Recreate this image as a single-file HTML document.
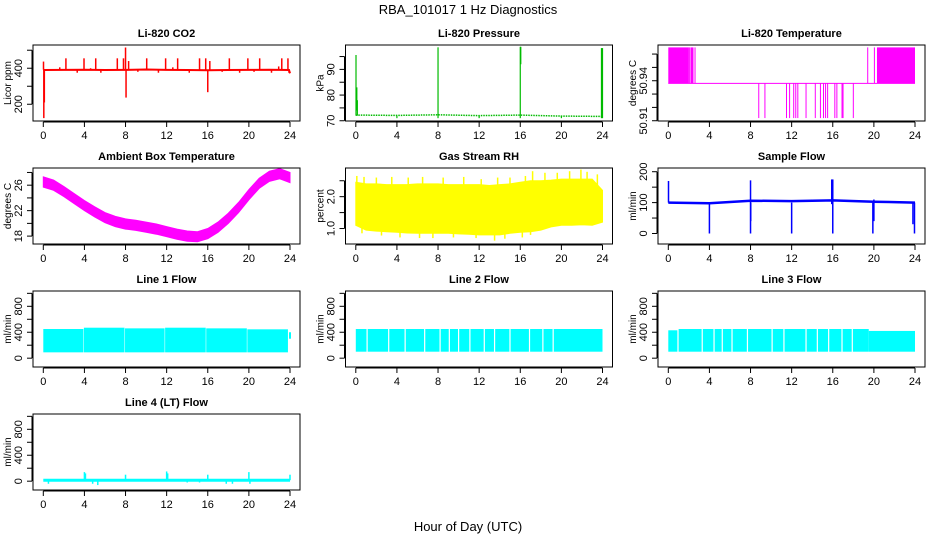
<!DOCTYPE html>
<html><head><meta charset="utf-8"><style>
html,body{margin:0;padding:0;background:#fff}
svg{display:block;font-family:"Liberation Sans",sans-serif}
</style></head><body>
<svg id="chart" width="936" height="540" viewBox="0 0 936 540">
<text x="468" y="14" text-anchor="middle" font-size="13">RBA_101017  1 Hz Diagnostics</text>
<text x="468" y="531" text-anchor="middle" font-size="13">Hour of Day (UTC)</text>
</svg>
<script>
// ---------- data ----------
const hourTicks = [0,4,8,12,16,20,24];
// CO2
const co2BaseT = [0,0.1,2,4,6,8,10,12,14,16,18,20,22,23.9,24];
const co2BaseV = [392,390,391,392,390,391,393,391,390,389,390,391,392,390,372];
const co2SpikeT = [0.02,0.05,0.1,1.6,2.2,3.3,3.96,4.6,5.1,5.6,6.5,7.2,7.8,8.0,8.05,8.3,9.2,10.06,11.2,11.9,12.6,13.07,14.2,15.2,15.8,16.0,16.2,17.4,18.1,19.1,19.9,20.5,21.05,22.2,22.9,23.2,23.8,23.9];
const co2SpikeV = [437,123,210,405,455,375,455,400,455,375,395,455,455,515,237,440,380,455,375,455,405,455,375,455,455,267,440,380,455,375,455,380,455,375,410,455,455,375];
// Pressure
const presBaseT = [0,0.1,4,8,12,16,20,24];
const presBaseV = [72.2,72.2,72.1,72.3,72.0,72.2,71.8,71.7];
const presSpikeT = [0.02,0.1,0.15,4.0,8.0,12.0,16.0,16.05,20.0,23.9,24.0];
const presSpikeLo = [72,74,72,71,71,71,71,92,71,71,71];
const presSpikeHi = [95.6,83,78,72,98.6,72,98.8,98.8,72,98.3,98.3];
// Li-820 temperature
const tBase = 50.938;
const tHighBlocks = [[0,2.0],[2.15,2.45],[20.3,24]];
const tHighLines = [2.05,2.6,19.4,20.05];
const tHigh = 50.965;
const tLowLines = [8.8,9.4,11.5,11.8,12.2,12.4,12.6,13.4,14.3,14.8,15.1,15.3,15.5,16.2,16.4,16.9,17.0,18.0];
const tLow = 50.912;
// Ambient box temperature (hourly)
const ambT = [0,1,2,3,4,5,6,7,8,9,10,11,12,13,14,15,16,17,18,19,20,21,22,23,24];
const ambV = [26.5,26.0,25.0,23.9,22.8,21.8,20.9,20.3,19.9,19.7,19.4,19.1,18.7,18.3,18.0,17.9,18.4,19.4,20.8,22.5,24.5,26.3,27.4,27.8,27.2];
// Gas stream RH (hourly envelope)
const rhT = [0,1,2,3,4,5,6,7,8,9,10,11,12,13,14,15,16,17,18,19,20,21,22,23,24];
const rhHi = [2.45,2.4,2.4,2.38,2.38,2.38,2.4,2.4,2.4,2.38,2.38,2.38,2.38,2.35,2.38,2.4,2.45,2.5,2.5,2.52,2.55,2.55,2.55,2.55,2.2];
const rhLo = [1.1,0.95,0.92,0.9,0.88,0.86,0.85,0.85,0.85,0.85,0.83,0.82,0.8,0.8,0.8,0.85,0.88,0.9,0.95,1.05,1.1,1.1,1.12,1.1,1.2];
const rhSpikeT = [0.1,0.8,2.0,3.5,5.1,6.5,8.5,10.5,12.2,13.8,15.0,16.5,17.2,18.4,19.6,20.8,21.9,22.5,23.5];
const rhSpikeV = [2.65,2.62,2.6,2.62,2.6,2.62,2.6,2.62,2.55,2.6,2.6,2.65,2.8,2.75,2.75,2.8,2.85,2.78,2.7];
const rhDipT = [0.6,2.5,4.3,6.2,7.5,9.5,11.7,13.5,14.5,16.2,17.0];
const rhDipV = [0.85,0.78,0.72,0.7,0.7,0.72,0.7,0.62,0.68,0.72,0.8];
// Sample flow
const sfBaseT = [0,0.05,4,8,12,16,20,24];
const sfBaseV = [100,100,98,106,105,107,103,100];
const sfSpikeT = [0.02,4.0,8.0,8.02,12.0,15.9,16.0,19.9,20.0,23.8,23.95];
const sfSpikeLo = [100,0,0,40,0,95,0,0,40,30,0];
const sfSpikeHi = [170,100,172,100,100,175,175,100,110,100,100];
// Line flows (band segments)
const l1SegT = [0,3.9,3.95,7.9,7.95,11.8,11.85,15.8,15.85,19.8,19.85,23.8];
const l1Hi = [450,0,470,0,460,0,470,0,460,0,445];
const l1Lo = [90,0,90,0,90,0,90,0,90,0,90];
const l1Gaps = [];
const l2SegT = [0,24];
const l2Hi = [450];
const l2Lo = [100];
const l2Gaps = [1.1,3.2,4.8,6.7,8.2,9.1,10.0,11.1,12.5,13.5,15.0,16.9,18.2,19.2];
const l3SegT = [0,1.0,19.5,24];
const l3Hi = [430,450,420];
const l3Lo = [100,100,100];
const l3Gaps = [0.94,3.3,4.45,5.25,6.2,7.7,10.1,11.25,13.4,14.5,15.6,16.9,17.9];
// Line 4
const l4BaseV = 15;
const l4SpikeT = [0.5,4.0,4.1,4.8,5.3,8.0,12.0,12.1,14.0,15.2,16.0,17.8,18.4,20.0,20.1,24.0];
const l4SpikeV = [-40,140,120,-40,-60,100,150,120,-20,-20,100,-40,-40,140,-40,100];

// ---------- drawing ----------
const svg = document.getElementById('chart');
const NS = 'http://www.w3.org/2000/svg';
function mk(tag, attrs, parent){
  const e = document.createElementNS(NS, tag);
  for (const k in attrs) e.setAttribute(k, attrs[k]);
  (parent||svg).appendChild(e);
  return e;
}
function panel(col,row,title,ylab,ymin,ymax,ticks,labels,name){
  const L = 33 + col*312.5, R = L + 267, T = 45 + row*123, B = T + 76;
  const g = mk('g',{});
  
  
  const x = t => L + 10.3 + t*(246.7/24);
  const y = v => B - (v - ymin)/(ymax - ymin)*(B - T);
  const data = mk('g',{},g);
  
  
  const box = mk('rect',{x:L,y:T,width:R-L,height:B-T,fill:'none',stroke:'#000','stroke-width':1},g);
  
  
  const tt = mk('text',{x:(L+R)/2,y:T-8,'text-anchor':'middle','font-size':11,'font-weight':'bold'},g);
  tt.textContent = title;
  
  
  const xa = mk('g',{},g);
  
  
  mk('line',{x1:x(0),x2:x(24),y1:B+1,y2:B+1,stroke:'#000'},xa);
  hourTicks.forEach(h=>{
    mk('line',{x1:x(h),x2:x(h),y1:B+1,y2:B+6,stroke:'#000'},xa);
    const t = mk('text',{x:x(h),y:B+18,'text-anchor':'middle','font-size':11},xa);
    t.textContent = h;
    
    
  });
  const ya = mk('g',{},g);
  
  
  mk('line',{x1:L-1,x2:L-1,y1:y(ticks[0]),y2:y(ticks[ticks.length-1]),stroke:'#000'},ya);
  ticks.forEach((v,i)=>{
    mk('line',{x1:L-6,x2:L-1,y1:y(v),y2:y(v),stroke:'#000'},ya);
    if (labels[i] !== '') {
      const t = mk('text',{x:0,y:0,'text-anchor':'middle','font-size':11,transform:`translate(${L-11},${y(v)}) rotate(-90)`},ya);
      t.textContent = labels[i];
      
      
    }
  });
  const yl = mk('text',{x:0,y:0,'text-anchor':'middle','font-size':10,transform:`translate(${L-22},${(T+B)/2}) rotate(-90)`},ya);
  yl.textContent = ylab;
  
  
  return {x,y,g:data};
}
function polyline(p, ts, vs, color, w){
  const pts = ts.map((t,i)=>p.x(t).toFixed(1)+','+p.y(vs[i]).toFixed(1)).join(' ');
  const e = mk('polyline',{points:pts,fill:'none',stroke:color,'stroke-width':w||1},p.g);
  
  
  return e;
}
function vline(p, t, v1, v2, color, w){
  const e = mk('line',{x1:p.x(t),x2:p.x(t),y1:p.y(v1),y2:p.y(v2),stroke:color,'stroke-width':w||1},p.g);
  
  
}
function band(p, ts, lo, hi, color, name){
  const pts = ts.map((t,i)=>p.x(t).toFixed(1)+','+p.y(hi[i]).toFixed(1))
    .concat(ts.slice().reverse().map((t,j)=>{const i=ts.length-1-j;return p.x(t).toFixed(1)+','+p.y(lo[i]).toFixed(1);}));
  const e = mk('polygon',{points:pts.join(' '),fill:color,stroke:color,'stroke-width':1},p.g);
  
  
}
function stepBand(p, segT, lo, hi, color, gaps){
  for (let i=0;i<segT.length-1;i++){
    if (hi[i] <= lo[i]) continue;
    const e = mk('rect',{x:p.x(segT[i]),y:p.y(hi[i]),width:p.x(segT[i+1])-p.x(segT[i]),height:p.y(lo[i])-p.y(hi[i]),fill:color},p.g);
    
    
  }
  gaps.forEach(t=>{
    const e = mk('line',{x1:p.x(t),x2:p.x(t),y1:p.y(hi[0]+30),y2:p.y(lo[0]-10),stroke:'#fff','stroke-width':1.2},p.g);
    
    
  });
}

let p = panel(0,0,'Li-820 CO2','Licor ppm',107,529,[200,300,400,500],['200','','400',''],'co2');
polyline(p, co2BaseT, co2BaseV, '#ff0000', 2);
co2SpikeT.forEach((t,i)=>vline(p,t,392,co2SpikeV[i],'#ff0000',1.5));
p = panel(1,0,'Li-820 Pressure','kPa',69.9,99.5,[70,75,80,85,90,95],['70','','80','','90',''],'pressure');
polyline(p, presBaseT, presBaseV, '#00bb00', 1.5).setAttribute('stroke-dasharray','1.5,1');
presSpikeT.forEach((t,i)=>vline(p,t,presSpikeLo[i],presSpikeHi[i],'#00bb00',1.2));
p = panel(2,0,'Li-820 Temperature','degrees C',50.9098,50.9668,[50.91,50.92,50.93,50.94,50.95,50.96],['50.91','','','50.94','',''],'licor-temp');
polyline(p,[0,24],[tBase,tBase],'#ff00ff',1);
tHighBlocks.forEach(b=>{
  const e = mk('rect',{x:p.x(b[0]),y:p.y(tHigh),width:p.x(b[1])-p.x(b[0]),height:p.y(tBase)-p.y(tHigh),fill:'#ff00ff'},p.g);
  
  
});
tHighLines.forEach(t=>vline(p,t,tBase,tHigh,'#ff00ff',1));
tLowLines.forEach(t=>vline(p,t,tBase,tLow,'#ff00ff',1));
p = panel(0,1,'Ambient Box Temperature','degrees C',16.76,28.7,[18,20,22,24,26,28],['18','','22','','26',''],'ambient-temp');
band(p, ambT, ambV.map(v=>v-0.8), ambV.map(v=>v+0.8), '#ff00ff', 'ambient-band');
p = panel(1,1,'Gas Stream RH','percent',0.514,2.90,[1.0,1.5,2.0,2.5],['1.0','','2.0',''],'rh');
band(p, rhT, rhLo, rhHi, '#ffff00', 'rh-band');
rhSpikeT.forEach((t,i)=>vline(p,t,2.0,rhSpikeV[i],'#ffff00',1.5));
rhDipT.forEach((t,i)=>vline(p,t,1.2,rhDipV[i],'#ffff00',1.5));
p = panel(2,1,'Sample Flow','ml/min',-34,212,[0,50,100,150,200],['0','','100','','200'],'sample-flow');
polyline(p, sfBaseT, sfBaseV, '#0000ff', 2.5);
sfSpikeT.forEach((t,i)=>vline(p,t,sfSpikeLo[i],sfSpikeHi[i],'#0000ff',1.5));
const fTicks=[0,200,400,600,800,1000], fLabs=['0','','400','','800',''];
p = panel(0,2,'Line 1 Flow','ml/min',-136,1036,fTicks,fLabs,'line1-flow');
stepBand(p,l1SegT,l1Lo,l1Hi,'#00ffff',l1Gaps);
vline(p,24,300,400,'#00ffff',2);
p = panel(1,2,'Line 2 Flow','ml/min',-136,1036,fTicks,fLabs,'line2-flow');
stepBand(p,l2SegT,l2Lo,l2Hi,'#00ffff',l2Gaps);
p = panel(2,2,'Line 3 Flow','ml/min',-136,1036,fTicks,fLabs,'line3-flow');
stepBand(p,l3SegT,l3Lo,l3Hi,'#00ffff',l3Gaps);
p = panel(0,3,'Line 4 (LT) Flow','ml/min',-136,1036,fTicks,fLabs,'line4-flow');
polyline(p,[0,24],[l4BaseV,l4BaseV],'#00ffff',3);
l4SpikeT.forEach((t,i)=>vline(p,t,l4BaseV,l4SpikeV[i],'#00ffff',1.5));
</script>
</body></html>
